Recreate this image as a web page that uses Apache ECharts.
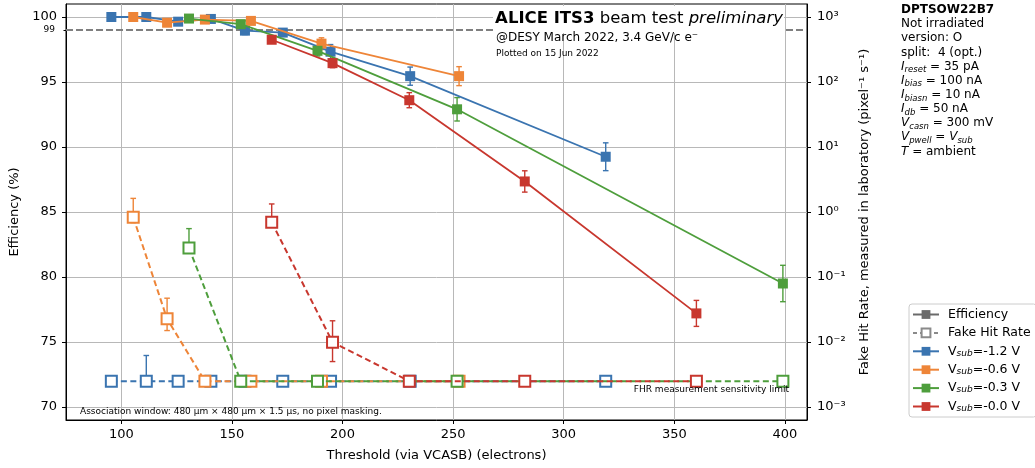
<!DOCTYPE html>
<html><head><meta charset="utf-8">
<script src="https://cdn.jsdelivr.net/npm/echarts@6/dist/echarts.min.js"></script>
<style>html,body{margin:0;padding:0;background:#fff}#c{width:1035px;height:468px}</style>
</head><body><div id="c"></div>
<script>
const FONT = 'DejaVu Sans';
// tick labels
const xTicks = [100, 150, 200, 250, 300, 350, 400];
const effTicks = [70, 75, 80, 85, 90, 95, 100];
const fhrTicks = [1e-3, 1e-2, 1e-1, 1e0, 1e1, 1e2, 1e3];
const EFF_REF = 99;
const FHR_LIMIT = 2.5e-3;
const L = FHR_LIMIT;

// Vsub = -1.2 V
const thrBlue = [95.5, 111.3, 125.7, 140.5, 155.9, 173.0, 194.6, 230.6, 319.0];
const effBlue = [100.0, 100.0, 99.64, 99.85, 98.95, 98.8, 97.33, 95.45, 89.25];
const effErrBlue = [0.03, 0.05, 0.15, 0.1, 0.3, 0.25, 0.55, 0.7, 1.07];
const fhrBlue = [L, L, L, L, L, L, L, L, L];
const fhrLoBlue = [L, L, L, L, L, L, L, L, L];
const fhrHiBlue = [L, 6.2e-3, L, L, L, L, L, L, L];
// Vsub = -0.6 V
const thrOrange = [105.4, 120.7, 137.8, 158.6, 190.5, 252.7];
const effOrange = [100.0, 99.56, 99.8, 99.7, 97.95, 95.45];
const effErrOrange = [0.03, 0.2, 0.15, 0.15, 0.45, 0.73];
const fhrOrange = [0.83, 0.0227, L, L, L, L];
const fhrLoOrange = [0.686, 0.015, L, L, L, L];
const fhrHiOrange = [1.62, 0.0472, L, L, L, L];
// Vsub = -0.3 V
const thrGreen = [130.6, 154.0, 188.7, 251.8, 399.1];
const effGreen = [99.88, 99.45, 97.4, 92.9, 79.5];
const effErrGreen = [0.08, 0.2, 0.4, 0.9, 1.4];
const fhrGreen = [0.28, L, L, L, L];
const fhrLoGreen = [0.237, L, L, L, L];
const fhrHiGreen = [0.555, L, L, L, L];
// Vsub = -0.0 V
const thrRed = [168.0, 195.5, 230.2, 282.4, 360.0];
const effRed = [98.25, 96.45, 93.6, 87.35, 77.2];
const effErrRed = [0.2, 0.35, 0.58, 0.82, 1.0];
const fhrRed = [0.695, 0.00995, L, L, L];
const fhrLoRed = [0.596, 0.005, L, L, L];
const fhrHiRed = [1.33, 0.0212, L, L, L];

const groups = [
  {name: 'Vsub=-1.2 V', color: '#3A74B0', thr: thrBlue, eff: effBlue, effErr: effErrBlue, fhr: fhrBlue, lo: fhrLoBlue, hi: fhrHiBlue},
  {name: 'Vsub=-0.6 V', color: '#EE8538', thr: thrOrange, eff: effOrange, effErr: effErrOrange, fhr: fhrOrange, lo: fhrLoOrange, hi: fhrHiOrange},
  {name: 'Vsub=-0.3 V', color: '#4E9E3C', thr: thrGreen, eff: effGreen, effErr: effErrGreen, fhr: fhrGreen, lo: fhrLoGreen, hi: fhrHiGreen},
  {name: 'Vsub=-0.0 V', color: '#C8372E', thr: thrRed, eff: effRed, effErr: effErrRed, fhr: fhrRed, lo: fhrLoRed, hi: fhrHiRed}
];

const supMap = {'-': '\u207B', '0': '\u2070', '1': '\u00B9', '2': '\u00B2', '3': '\u00B3'};
function powLabel(v) {
  const e = Math.round(Math.log10(v));
  return '10' + String(e).split('').map(c => supMap[c]).join('');
}

function errRenderer(color) {
  return function (params, api) {
    const x = api.value(0), lo = api.value(1), hi = api.value(2);
    if (lo === hi) return null;
    const p1 = api.coord([x, lo]), p2 = api.coord([x, hi]);
    const c = 2.8;
    const st = {stroke: color, lineWidth: 1.4};
    return {type: 'group', children: [
      {type: 'line', shape: {x1: p1[0], y1: p1[1], x2: p2[0], y2: p2[1]}, style: st},
      {type: 'line', shape: {x1: p1[0] - c, y1: p1[1], x2: p1[0] + c, y2: p1[1]}, style: st},
      {type: 'line', shape: {x1: p2[0] - c, y1: p2[1], x2: p2[0] + c, y2: p2[1]}, style: st}
    ]};
  };
}

const series = [];
// reference lines
series.push({type: 'line', name: 'ref99', yAxisIndex: 0, data: [], z: 1, silent: true,
  markLine: {silent: true, symbol: ['none', 'none'], label: {show: false},
    lineStyle: {color: '#7f7f7f', type: [7, 3], width: 2}, data: [{yAxis: EFF_REF}]}});
series.push({type: 'line', name: 'limit', yAxisIndex: 2, data: [], z: 1, silent: true,
  markLine: {silent: true, symbol: ['none', 'none'], label: {show: false},
    lineStyle: {color: '#8a8a8a', type: [2, 3], width: 1.6}, data: [{yAxis: FHR_LIMIT}]}});
// legend-only series
series.push({type: 'line', name: 'Efficiency', data: [], yAxisIndex: 0, color: '#6a6a6a',
  symbol: 'rect', symbolSize: 9, lineStyle: {width: 2}});
series.push({type: 'line', name: 'Fake Hit Rate', data: [], yAxisIndex: 0, color: '#8a8a8a',
  symbol: 'emptyRect', symbolSize: 9, lineStyle: {width: 2, type: [4, 3]}});

groups.forEach((g, k) => {
  series.push({type: 'custom', name: g.name + ' effErr', yAxisIndex: 0, z: 3 + k, silent: true,
    renderItem: errRenderer(g.color), encode: {x: 0, y: [1, 2]},
    data: g.thr.map((t, i) => [t, g.eff[i] - g.effErr[i], g.eff[i] + g.effErr[i]])});
  series.push({type: 'custom', name: g.name + ' fhrErr', yAxisIndex: 2, z: 3 + k, silent: true,
    renderItem: errRenderer(g.color), encode: {x: 0, y: [1, 2]},
    data: g.thr.map((t, i) => [t, g.lo[i], g.hi[i]])});
});
groups.forEach((g, k) => {
  series.push({type: 'line', name: g.name, yAxisIndex: 0, z: 10 + k, color: g.color,
    symbol: 'rect', symbolSize: 10, lineStyle: {width: 1.8, color: g.color},
    itemStyle: {color: g.color},
    data: g.thr.map((t, i) => [t, g.eff[i]])});
  series.push({type: 'line', name: g.name + ' FHR', yAxisIndex: 2, z: 10 + k, color: g.color,
    symbol: 'emptyRect', symbolSize: 11, lineStyle: {width: 2, type: [6, 3.5], color: g.color},
    itemStyle: {color: g.color, borderColor: g.color, borderWidth: 1.3},
    data: g.thr.map((t, i) => [t, g.fhr[i]])});
});

const info = [
  '{b|DPTSOW22B7}',
  'Not irradiated',
  'version: O',
  'split:  4 (opt.)',
  '{i|I}{s|reset} = 35 pA',
  '{i|I}{s|bias} = 100 nA',
  '{i|I}{s|biasn} = 10 nA',
  '{i|I}{s|db} = 50 nA',
  '{i|V}{s|casn} = 300 mV',
  '{i|V}{s|pwell} = {i|V}{s|sub}',
  '{i|T} = ambient'
];
const richInfo = {
  b: {fontFamily: FONT, fontSize: 12, fontWeight: 'bold', lineHeight: 16},
  i: {fontFamily: FONT, fontSize: 12, fontStyle: 'italic', lineHeight: 16},
  s: {fontFamily: FONT, fontSize: 8.5, fontStyle: 'italic', lineHeight: 8, verticalAlign: 'bottom'}
};

const graphic = [];
info.forEach((t, i) => {
  graphic.push({type: 'text', x: 901, y: 10 + 14.15 * i, silent: true, z: 100,
    style: {text: t, fontFamily: FONT, fontSize: 12, fill: '#000', lineHeight: 16,
      align: 'left', verticalAlign: 'middle', textAlign: 'left', textVerticalAlign: 'middle', rich: richInfo}});
});
graphic.push({type: 'rect', silent: true, z: 100, shape: {x: 493, y: 6, width: 291, height: 27}, style: {fill: '#fff'}});
graphic.push({type: 'text', x: 783, y: 19, silent: true, z: 101,
  style: {text: '{b|ALICE ITS3} {n|beam test} {i|preliminary}', align: 'right', verticalAlign: 'middle',
    textAlign: 'right', textVerticalAlign: 'middle', fill: '#000', fontFamily: FONT, fontSize: 16.5,
    rich: {b: {fontFamily: FONT, fontSize: 16.5, fontWeight: 'bold'}, n: {fontFamily: FONT, fontSize: 16.5},
      i: {fontFamily: FONT, fontSize: 16.5, fontStyle: 'italic'}}}});
graphic.push({type: 'text', x: 496, y: 38, silent: true, z: 101,
  style: {text: '@DESY March 2022, 3.4 GeV/c e\u207B', fontFamily: FONT, fontSize: 12, fill: '#000',
    align: 'left', verticalAlign: 'middle', textAlign: 'left', textVerticalAlign: 'middle'}});
graphic.push({type: 'text', x: 496, y: 54, silent: true, z: 101,
  style: {text: 'Plotted on 15 Jun 2022', fontFamily: FONT, fontSize: 9, fill: '#000',
    align: 'left', verticalAlign: 'middle', textAlign: 'left', textVerticalAlign: 'middle'}});
graphic.push({type: 'text', x: 80, y: 412, silent: true, z: 101,
  style: {text: 'Association window: 480 \u00B5m \u00D7 480 \u00B5m \u00D7 1.5 \u00B5s, no pixel masking.', fontFamily: FONT, fontSize: 9, fill: '#000',
    align: 'left', verticalAlign: 'middle', textAlign: 'left', textVerticalAlign: 'middle'}});
graphic.push({type: 'text', x: 789, y: 390, silent: true, z: 101,
  style: {text: 'FHR measurement sensitivity limit', fontFamily: FONT, fontSize: 9, fill: '#000',
    align: 'right', verticalAlign: 'middle', textAlign: 'right', textVerticalAlign: 'middle'}});

const axisCommon = {
  axisLine: {show: true, lineStyle: {color: '#000', width: 1}},
  axisTick: {show: true, inside: false, length: 4, lineStyle: {color: '#000', width: 1}},
  nameTextStyle: {fontFamily: FONT, fontSize: 13, color: '#000'}
};

const option = {
  animation: false,
  backgroundColor: '#fff',
  textStyle: {fontFamily: FONT},
  grid: {left: 66, right: 228, top: 4, bottom: 48, show: true, borderColor: '#000', borderWidth: 1},
  xAxis: {type: 'value', min: 75, max: 410,
    name: 'Threshold (via VCASB) (electrons)', nameLocation: 'middle', nameGap: 29,
    nameTextStyle: axisCommon.nameTextStyle, axisLine: axisCommon.axisLine,
    axisTick: Object.assign({}, axisCommon.axisTick, {customValues: xTicks}),
    axisLabel: {customValues: xTicks, fontFamily: FONT, fontSize: 13, color: '#000', margin: 8},
    splitLine: {show: true, lineStyle: {color: '#b8b8b8', width: 1}}},
  yAxis: [
    {type: 'value', position: 'left', min: 69, max: 101,
      name: 'Efficiency (%)', nameLocation: 'middle', nameGap: 37, nameRotate: 90,
      nameTextStyle: axisCommon.nameTextStyle, axisLine: axisCommon.axisLine,
      axisTick: Object.assign({}, axisCommon.axisTick, {customValues: effTicks}),
      axisLabel: {customValues: effTicks, fontFamily: FONT, fontSize: 13, color: '#000', margin: 9},
      splitLine: {show: true, lineStyle: {color: '#b8b8b8', width: 1}}},
    {type: 'value', position: 'left', min: 69, max: 101,
      axisLine: {show: false},
      axisTick: {show: true, length: 2.5, customValues: [EFF_REF], lineStyle: {color: '#000'}},
      axisLabel: {customValues: [EFF_REF], fontFamily: FONT, fontSize: 9, color: '#000', margin: 11},
      splitLine: {show: false}},
    {type: 'log', logBase: 10, position: 'right', min: Math.pow(10, -3.2), max: Math.pow(10, 3.2),
      name: 'Fake Hit Rate, measured in laboratory (pixel\u207B\u00B9 s\u207B\u00B9)', nameLocation: 'middle', nameGap: 51, nameRotate: 90,
      nameTextStyle: axisCommon.nameTextStyle, axisLine: axisCommon.axisLine,
      axisTick: Object.assign({}, axisCommon.axisTick, {customValues: fhrTicks}),
      minorTick: {show: false},
      axisLabel: {customValues: fhrTicks, fontFamily: FONT, fontSize: 13, color: '#000', margin: 10, formatter: powLabel},
      splitLine: {show: false}}
  ],
  legend: {orient: 'vertical', left: 909, top: 304, itemWidth: 26, itemHeight: 11, itemGap: 5.4,
    padding: [4, 6, 4, 3], borderColor: '#cccccc', borderWidth: 1, borderRadius: 3, backgroundColor: '#fff',
    selectedMode: false,
    data: ['Efficiency', 'Fake Hit Rate', 'Vsub=-1.2 V', 'Vsub=-0.6 V', 'Vsub=-0.3 V', 'Vsub=-0.0 V'],
    formatter: n => n.indexOf('Vsub') === 0 ? 'V{s|sub}' + n.slice(4) : n,
    textStyle: {fontFamily: FONT, fontSize: 12.5, color: '#000', lineHeight: 13, padding: [0, 0, 0, 4],
      rich: {s: {fontFamily: FONT, fontSize: 9, fontStyle: 'italic', lineHeight: 8, verticalAlign: 'bottom'}}}},
  graphic: graphic,
  series: series
};
const chart = echarts.init(document.getElementById('c'), null, {renderer: 'canvas'});
chart.setOption(option);
</script></body></html>
